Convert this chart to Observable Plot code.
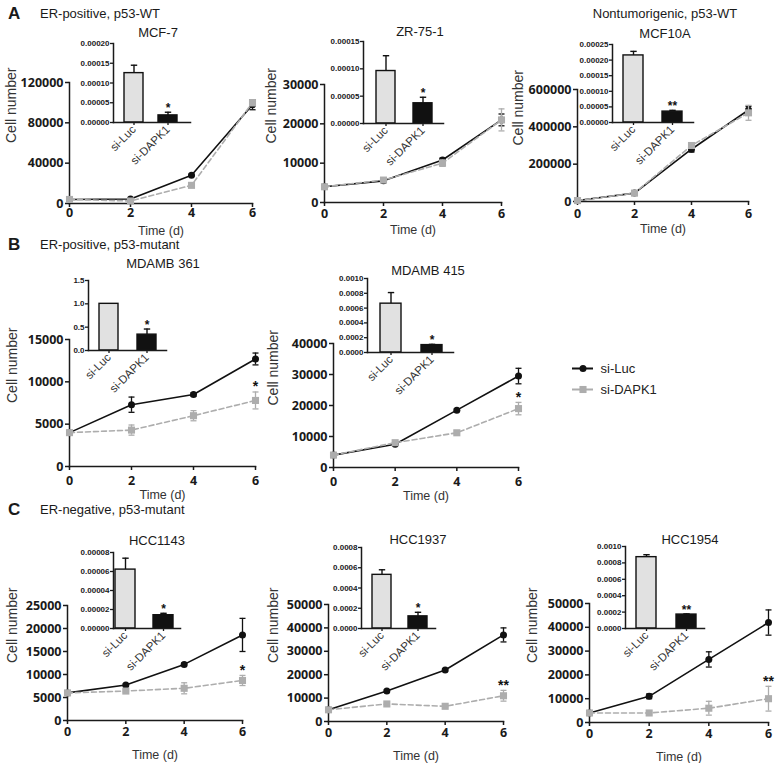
<!DOCTYPE html>
<html>
<head>
<meta charset="utf-8">
<script src="https://cdn.jsdelivr.net/npm/d3@7"></script>
<script src="https://cdn.jsdelivr.net/npm/@observablehq/plot@0.6"></script>
<style>
  body { margin: 0; background: #fff; }
  #fig { position: relative; width: 779px; height: 763px; overflow: hidden; background: #fff;
         font-family: "Liberation Sans", Arial, sans-serif; color: #1a1a1a; }
  .lbl { position: absolute; white-space: nowrap; line-height: 1; font-size: 13px; transform: translateY(-50%); }
  .ctr { transform: translate(-50%, -50%); }
  .sec { font-weight: bold; font-size: 17px; }
</style>
</head>
<body>
<div id="fig"></div>
<script>
// ---------------- data ----------------
const days = [0, 2, 4, 6];
const groups = ["si-Luc", "si-DAPK1"];
const cellLines = ["MCF-7", "ZR-75-1", "MCF10A", "MDAMB 361", "MDAMB 415", "HCC1143", "HCC1937", "HCC1954"];
const sections = ["A", "B", "C"];
const sectionTitles = ["ER-positive, p53-WT", "ER-positive, p53-mutant", "ER-negative, p53-mutant"];
const extraTitle = "Nontumorigenic, p53-WT";

const lucMean = [
  [4000, 4500, 28000, 98000],
  [4000, 5500, 10800, 21000],
  [5000, 45000, 280000, 490000],
  [4000, 7300, 8500, 12700],
  [4000, 7500, 18500, 29500],
  [6000, 7700, 12200, 18600],
  [5000, 13000, 22000, 37000],
  [4000, 11000, 26500, 42000]
];
const lucErr = [
  [0, 0, 1000, 5000],
  [0, 300, 500, 1500],
  [0, 5000, 15000, 20000],
  [0, 900, 200, 700],
  [0, 300, 400, 2500],
  [0, 300, 300, 3600],
  [0, 500, 500, 3000],
  [0, 1000, 3200, 5300]
];
const dapkMean = [
  [4000, 2500, 18000, 100000],
  [4000, 5700, 10000, 21000],
  [5000, 45000, 300000, 475000],
  [4000, 4300, 6000, 7800],
  [4000, 8000, 11200, 19000],
  [6000, 6400, 7000, 8700],
  [5000, 7500, 6500, 11000],
  [4000, 4000, 6000, 10000]
];
const dapkErr = [
  [0, 0, 1000, 3000],
  [0, 300, 800, 2800],
  [0, 5000, 10000, 40000],
  [0, 600, 600, 1000],
  [0, 300, 600, 2000],
  [0, 300, 1200, 1100],
  [0, 500, 400, 2300],
  [0, 300, 2900, 5200]
];
const yMax = [120000, 30000, 600000, 15000, 40000, 25000, 50000, 50000];
const yStep = [40000, 10000, 200000, 5000, 10000, 5000, 10000, 10000];
const mainStars = ["", "", "", "*", "*", "*", "**", "**"];

const insetLuc = [0.000125, 0.000096, 0.000215, 1.0, 0.00066, 0.000062, 0.00053, 0.00087];
const insetLucErr = [0.00002, 0.000028, 0.000013, 0, 0.00015, 0.000012, 0.00005, 0.00003];
const insetDapk = [0.000018, 0.000037, 0.000035, 0.34, 0.0001, 0.000014, 0.00012, 0.00017];
const insetDapkErr = [0.000008, 0.000011, 0.000004, 0.12, 0.00001, 0.000002, 0.00004, 0.000008];
const insetMax = [0.0002, 0.00015, 0.00025, 1.5, 0.001, 0.00008, 0.0008, 0.001];
const insetStep = [0.00005, 0.00005, 0.00005, 0.5, 0.0002, 0.00002, 0.0002, 0.0002];
const insetDigits = [5, 5, 5, 1, 4, 5, 4, 4];
const insetStars = ["*", "*", "**", "*", "*", "*", "*", "**"];

// ---------------- layout (pixels) ----------------
const mainLayout = [
  {ax: 69, x6: 252, y0: 203, yTop: 82, lo: 63, tp: 1, xo: 31},
  {ax: 324, x6: 501, y0: 202, yTop: 84, lo: 58, tp: 3, xo: 31},
  {ax: 577, x6: 748, y0: 201, yTop: 89, lo: 64, tp: 4, xo: 31},
  {ax: 69, x6: 255, y0: 466, yTop: 339, lo: 62, tp: 6, xo: 32},
  {ax: 333, x6: 518, y0: 467, yTop: 343, lo: 65, tp: 6, xo: 32},
  {ax: 67, x6: 242, y0: 720, yTop: 605, lo: 60, tp: 3, xo: 38},
  {ax: 328, x6: 503, y0: 721, yTop: 604, lo: 60, tp: 3, xo: 38},
  {ax: 589, x6: 768, y0: 722, yTop: 603, lo: 62, tp: 3, xo: 38}
];
const insetLayout = [
  {ax: 113, right: 190, y0: 122, yTop: 43, pi: 0.435, po: 0.333, al: 0.48},
  {ax: 363, right: 443, y0: 123, yTop: 41, pi: 0.474, po: 0.29, al: 0.545},
  {ax: 612, right: 693, y0: 122, yTop: 44, pi: 0.5, po: 0.263, al: 0.476},
  {ax: 88, right: 166, y0: 350, yTop: 280, pi: 0.487, po: 0.244, al: 0.526},
  {ax: 367, right: 453, y0: 352, yTop: 278, pi: 0.5, po: 0.274, al: 0.52},
  {ax: 113, right: 180, y0: 628, yTop: 552, pi: 0.474, po: 0.118, al: 0.22},
  {ax: 361, right: 435, y0: 628, yTop: 547, pi: 0.459, po: 0.23, al: 0.59},
  {ax: 625, right: 704, y0: 628, yTop: 546, pi: 0.512, po: 0.22, al: 0.556}
];
const titlePos = [[158, 32], [420, 31], [665, 33], [163, 263], [428, 270], [157, 540], [418, 539], [690, 539]];
const sectionPos = [13, 244, 509];

// ---------------- helpers ----------------
const fig = document.getElementById("fig");
const BLACK = "#111";
const GRAY = "#adadad";
const capSymbol = {
  draw(context, size) {
    const w = Math.sqrt(size / Math.PI);
    context.moveTo(-w, 0);
    context.lineTo(w, 0);
  }
};
function place(el, left, top) {
  el.style.position = "absolute";
  el.style.left = left + "px";
  el.style.top = top + "px";
  fig.appendChild(el);
}
function label(text, x, y, cls, centered) {
  const d = document.createElement("div");
  d.className = "lbl" + (centered ? " ctr" : "") + (cls ? " " + cls : "");
  d.textContent = text;
  d.style.left = x + "px";
  d.style.top = y + "px";
  fig.appendChild(d);
}
const baseStyle = {background: "transparent", overflow: "visible",
  fontFamily: "Liberation Sans, Arial, sans-serif", color: "#1a1a1a"};

function seriesMarks(data, color, symbol, r, dash) {
  const withErr = data.filter(d => d.e > 0);
  return [
    Plot.ruleX(withErr, {x: "day", y1: d => d.v - d.e, y2: d => d.v + d.e, stroke: color, strokeWidth: 1.3}),
    Plot.dot(withErr, {x: "day", y: d => d.v + d.e, symbol: capSymbol, r: 3, stroke: color, strokeWidth: 1.3, fill: "none"}),
    Plot.dot(withErr, {x: "day", y: d => d.v - d.e, symbol: capSymbol, r: 3, stroke: color, strokeWidth: 1.3, fill: "none"}),
    Plot.line(data, {x: "day", y: "v", stroke: color, strokeWidth: 1.6, strokeDasharray: dash}),
    Plot.dot(data, {x: "day", y: "v", symbol, r, fill: color, stroke: "none"})
  ];
}

function mainChart(i) {
  const L = mainLayout[i];
  const mL = 80, mR = 16, mT = 16, mB = 50;
  const luc = days.map((d, j) => ({day: d, v: lucMean[i][j], e: lucErr[i][j]}));
  const dap = days.map((d, j) => ({day: d, v: dapkMean[i][j], e: dapkErr[i][j]}));
  const yT = d3.range(0, yMax[i] + yStep[i] / 2, yStep[i]);
  const star = mainStars[i] ? [{day: 6, v: dapkMean[i][3] + dapkErr[i][3], s: mainStars[i]}] : [];
  const svg = Plot.plot({
    width: mL + (L.x6 - L.ax) + mR,
    height: mT + (L.y0 - L.yTop) + mB,
    marginLeft: mL, marginRight: mR, marginTop: mT, marginBottom: mB,
    style: baseStyle,
    x: {domain: [0, 6]},
    y: {domain: [0, yMax[i]]},
    marks: [
      Plot.axisY({ticks: yT, tickFormat: d3.format("d"), tickSize: 4, tickPadding: 2, strokeWidth: 1.5,
        fontSize: 12.5, fontWeight: "bold", fontFamily: "Open Sans", label: null}),
      Plot.axisX({ticks: days, tickFormat: d3.format("d"), tickSize: 4, tickPadding: L.tp, strokeWidth: 1.5,
        fontSize: 12.5, fontWeight: "bold", fontFamily: "Open Sans", label: null}),
      Plot.frame({anchor: "left", strokeWidth: 1.5}),
      Plot.frame({anchor: "bottom", strokeWidth: 1.5}),
      Plot.text(["Cell number"], {text: d => d, frameAnchor: "left", rotate: -90, lineAnchor: "top",
        dx: -L.lo, fontSize: 14, fill: "#333"}),
      Plot.text(["Time (d)"], {text: d => d, frameAnchor: "bottom", lineAnchor: "bottom",
        dy: L.xo, fontSize: 12.5, fill: "#333"}),
      ...seriesMarks(luc, BLACK, "circle", 3.5, null),
      ...seriesMarks(dap, GRAY, "square", 4, "5,3"),
      Plot.text(star, {x: "day", y: "v", text: "s", dy: -5, fontSize: 14, fontWeight: "bold", fill: BLACK})
    ]
  });
  place(svg, L.ax - mL, L.yTop - mT);
}

function insetChart(i) {
  const L = insetLayout[i];
  const mL = 50, mR = 8, mT = 10, mB = 70;
  const bars = [
    {g: groups[0], v: insetLuc[i], e: insetLucErr[i]},
    {g: groups[1], v: insetDapk[i], e: insetDapkErr[i]}
  ];
  const withErr = bars.filter(d => d.e > 0);
  const yT = d3.range(0, insetMax[i] + insetStep[i] / 2, insetStep[i]);
  const svg = Plot.plot({
    width: mL + (L.right - L.ax) + mR,
    height: mT + (L.y0 - L.yTop) + mB,
    marginLeft: mL, marginRight: mR, marginTop: mT, marginBottom: mB,
    style: baseStyle,
    x: {domain: groups, paddingInner: L.pi, paddingOuter: L.po, align: L.al},
    y: {domain: [0, insetMax[i]]},
    color: {domain: groups, range: ["#e1e1e1", BLACK]},
    marks: [
      Plot.ruleX(withErr, {x: "g", y1: "v", y2: d => d.v + d.e, stroke: BLACK, strokeWidth: 1.4}),
      Plot.dot(withErr, {x: "g", y: d => d.v + d.e, symbol: capSymbol, r: 3.2, stroke: BLACK, strokeWidth: 1.4, fill: "none"}),
      Plot.barY(bars, {x: "g", y: "v", fill: "g", stroke: BLACK, strokeWidth: 1.4}),
      Plot.text([bars[1]], {x: "g", y: d => d.v + d.e, text: () => insetStars[i], dy: -4, fontSize: 12, fontWeight: "bold", fill: BLACK}),
      Plot.axisY({ticks: yT, tickFormat: d3.format("." + insetDigits[i] + "f"), tickSize: 3, tickPadding: 1,
        strokeWidth: 1.3, fontSize: 8, fontWeight: "bold", label: null}),
      Plot.axisX({tickRotate: -45, tickSize: 3, tickPadding: 2, strokeWidth: 1.3, fontSize: 11.5, fill: "#333", label: null}),
      Plot.frame({anchor: "left", strokeWidth: 1.5}),
      Plot.frame({anchor: "bottom", strokeWidth: 1.5})
    ]
  });
  place(svg, L.ax - mL, L.yTop - mT);
}

function legendChart() {
  const rows = groups.map((g, k) => ({g, k}));
  const svg = Plot.plot({
    width: 110, height: 44, margin: 0,
    style: baseStyle,
    x: {domain: [0, 1], range: [5, 26], axis: null},
    y: {type: "point", domain: groups, range: [10, 31], padding: 0, axis: null},
    marks: [
      Plot.ruleY(rows.filter(d => d.k === 0), {y: "g", x1: 0, x2: 1, stroke: BLACK, strokeWidth: 2}),
      Plot.ruleY(rows.filter(d => d.k === 1), {y: "g", x1: 0, x2: 1, stroke: GRAY, strokeWidth: 2}),
      Plot.dot(rows.filter(d => d.k === 0), {x: 0.5, y: "g", symbol: "circle", r: 3.5, fill: BLACK}),
      Plot.dot(rows.filter(d => d.k === 1), {x: 0.5, y: "g", symbol: "square", r: 4, fill: GRAY}),
      Plot.text(rows, {x: 1, y: "g", text: "g", dx: 7, textAnchor: "start", fontSize: 13, fill: "#222"})
    ]
  });
  place(svg, 567, 358);
}

// ---------------- draw ----------------
cellLines.forEach((_, i) => mainChart(i));
cellLines.forEach((_, i) => insetChart(i));
legendChart();

sections.forEach((s, k) => {
  label(s, 8, sectionPos[k], "sec", false);
  label(sectionTitles[k], 40, sectionPos[k], null, false);
});
label(extraTitle, 665, sectionPos[0], null, true);
cellLines.forEach((name, i) => {
  label(name, titlePos[i][0], titlePos[i][1], null, true);
});
</script>
</body>
</html>
